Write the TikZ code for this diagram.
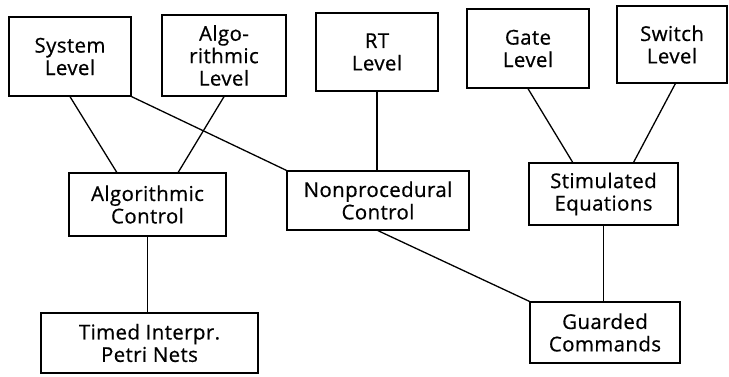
\documentclass[tikz,border=0pt]{standalone}
\usepackage{fontspec}
\setmainfont{Open Sans}[LetterSpace=2,FakeBold=0.6]
\usetikzlibrary{calc}
\begin{document}
\begin{tikzpicture}[x=1bp,y=-1bp,
  box/.style={draw,line width=1.3bp,inner sep=0pt,align=center,
    font=\fontsize{20.5}{22.5}\selectfont},
  link/.style={line width=1.3bp}]
\useasboundingbox (0,0) rectangle (729,376);
\node[box,minimum width=122bp,minimum height=79bp] (sys) at (70,56.5) {System\\Level};
\node[box,minimum width=124bp,minimum height=81bp] (alg) at (224,55.5) {Algo-\\rithmic\\Level};
\node[box,minimum width=122bp,minimum height=78bp] (rt) at (377,52) {RT\\Level};
\node[box,minimum width=122bp,minimum height=79bp] (gate) at (528,48.5) {Gate\\Level};
\node[box,minimum width=110bp,minimum height=77bp] (sw) at (672,44.5) {Switch\\Level};
\node[box,minimum width=157bp,minimum height=63bp] (ac) at (147.5,204.5) {Algorithmic\\Control};
\node[box,minimum width=182bp,minimum height=59bp] (np) at (378,200.5) {Nonprocedural\\Control};
\node[box,minimum width=149bp,minimum height=62bp] (se) at (603.5,194) {Stimulated\\Equations};
\node[box,minimum width=150bp,minimum height=61bp] (gc) at (605,332.5) {Guarded\\Commands};
\node[box,minimum width=217bp,minimum height=60bp] (tp) at (149.5,343) {Timed Interpr.\\Petri Nets};
\draw[link] (sys.south) -- ($(ac.north west)!0.306!(ac.north east)$);
\draw[link] (alg.south) -- ($(ac.north west)!0.694!(ac.north east)$);
\draw[link] (sys.south east) -- (np.north west);
\draw[link] (rt.south) -- (rt.south |- np.north);
\draw[link] (gate.south) -- ($(se.north west)!0.295!(se.north east)$);
\draw[link] ($(sw.south west)!0.53!(sw.south east)$) -- ($(se.north west)!0.70!(se.north east)$);
\draw[link] (np.south) -- (gc.north west);
\draw[link] (se.south) -- (se.south |- gc.north);
\draw[link] (ac.south) -- (ac.south |- tp.north);
\end{tikzpicture}
\end{document}
